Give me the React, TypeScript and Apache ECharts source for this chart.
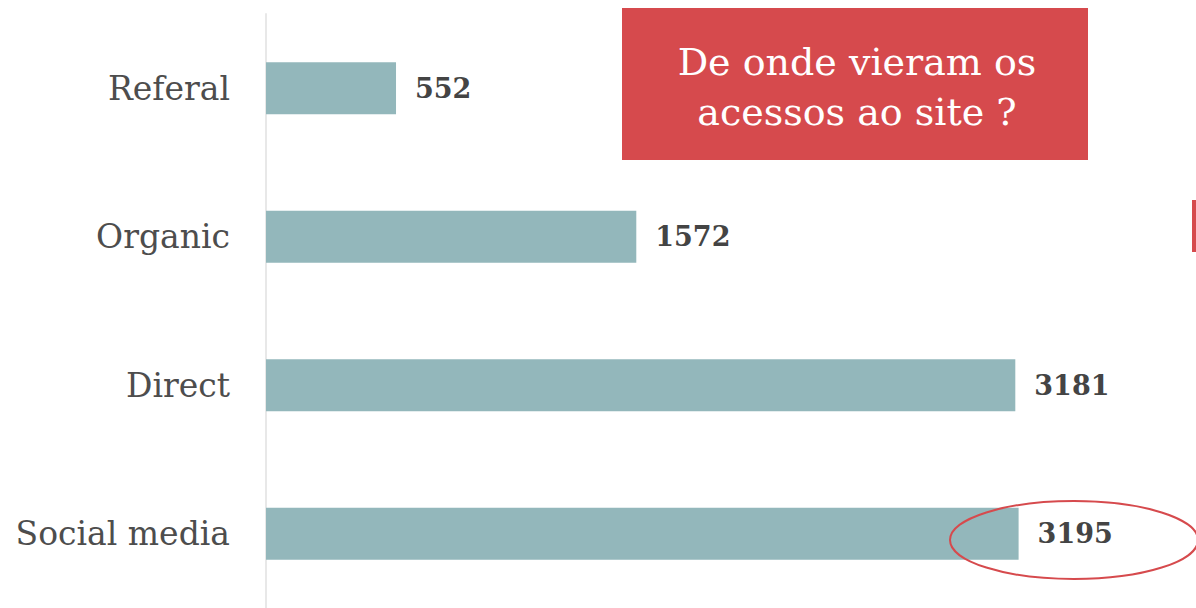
import React, { useEffect, useRef } from "react";
import * as echarts from "echarts";

const categories = ["Referal", "Organic", "Direct", "Social media"];
const values = [552, 1572, 3181, 3195];
const titleLines = ["De onde vieram os", "acessos ao site ?"];

const BAR = "#93b7bb";
const RED = "#d64a4d";
const FONT = "'DejaVu Serif', serif";

export default function App() {
  const ref = useRef<HTMLDivElement>(null);
  useEffect(() => {
    document.body.style.margin = "0";
    const chart = echarts.init(ref.current!, null, { renderer: "svg" });
    chart.setOption({
      animation: false,
      backgroundColor: "#ffffff",
      grid: { left: 266, top: 14, width: 848, height: 600, containLabel: false },
      xAxis: { type: "value", min: 0, max: 3600, show: false },
      yAxis: {
        type: "category",
        data: categories,
        inverse: true,
        axisLine: { show: true, lineStyle: { color: "#e8e8e8", width: 2 } },
        axisTick: { show: false },
        axisLabel: { color: "#4d4d4d", fontFamily: FONT, fontSize: 33, margin: 36, padding: [6, 0, 0, 0] },
        splitLine: { show: false },
      },
      series: [
        {
          type: "bar",
          data: values,
          barWidth: 52,
          itemStyle: { color: BAR },
          label: {
            show: true,
            position: "right",
            distance: 19,
            color: "#444444",
            fontFamily: FONT,
            fontWeight: "bold",
            fontSize: 27,
            padding: [8, 0, 0, 0],
          },
        },
      ],
      graphic: [
        { type: "rect", shape: { x: 622, y: 8, width: 466, height: 152 }, style: { fill: RED }, z: 10 },
        {
          type: "text",
          x: 857,
          y: 62,
          style: { text: titleLines[0], fill: "#ffffff", font: `38px ${FONT}`, textAlign: "center", textVerticalAlign: "middle" },
          z: 11,
        },
        {
          type: "text",
          x: 857,
          y: 112,
          style: { text: titleLines[1], fill: "#ffffff", font: `38px ${FONT}`, textAlign: "center", textVerticalAlign: "middle" },
          z: 11,
        },
        { type: "rect", shape: { x: 1192, y: 200, width: 4, height: 52 }, style: { fill: RED }, z: 10 },
        {
          type: "ellipse",
          shape: { cx: 1074, cy: 540, rx: 124, ry: 39 },
          style: { fill: "none", stroke: RED, lineWidth: 2 },
          z: 10,
        },
      ],
    });
    return () => chart.dispose();
  }, []);
  return <div ref={ref} style={{ width: 1196, height: 608 }} />;
}
